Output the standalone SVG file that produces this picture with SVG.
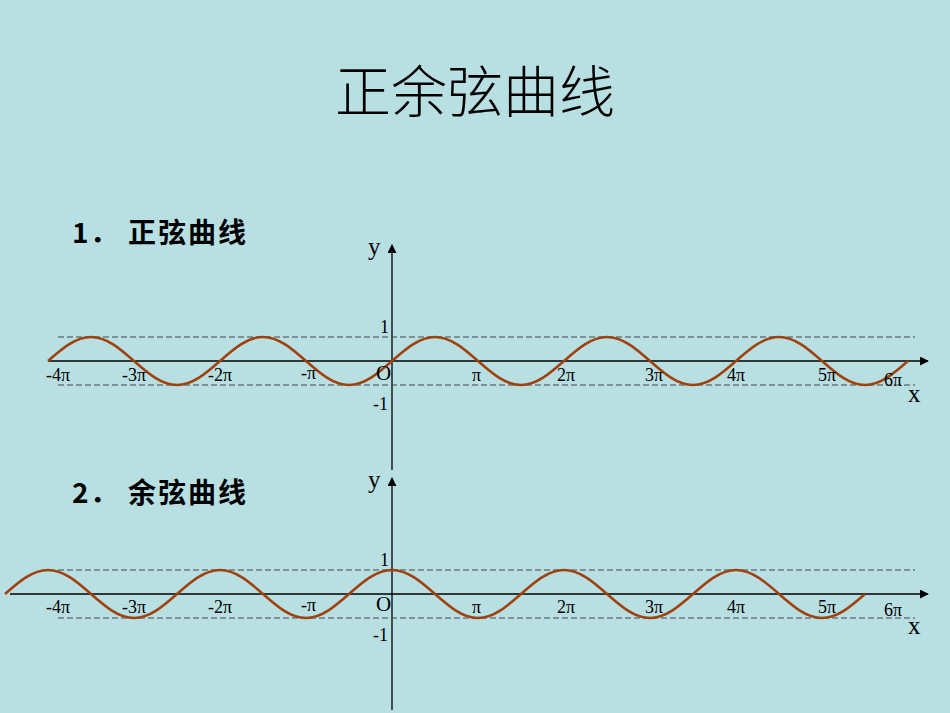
<svg xmlns="http://www.w3.org/2000/svg" width="950" height="713" viewBox="0 0 950 713">
<defs>
<style>
.ax{stroke:#000;stroke-width:1.3;fill:none}
.da{stroke:#444;stroke-width:1;stroke-dasharray:6,3;fill:none}
.cv{stroke:#a0400c;stroke-width:2.5;fill:none}
.t{font-family:"Liberation Serif",serif;font-size:18px;fill:#000}
.h{font-family:"Noto Sans CJK SC",sans-serif;font-size:28px;font-weight:bold;fill:#000}
</style>
<marker id="ar" viewBox="0 0 10 10" refX="9" refY="5" markerWidth="9" markerHeight="9" markerUnits="userSpaceOnUse" orient="auto"><path d="M0,0L10,5L0,10z" fill="#000"/></marker>
</defs>
<rect width="950" height="713" fill="#b8dfe2"/>
<text x="475" y="112" text-anchor="middle" font-family="Noto Sans CJK SC,sans-serif" font-size="56" font-weight="300" fill="#000">正余弦曲线</text>
<text class="h" x="72" y="243">1</text><text class="h" x="90" y="243">．</text><text class="h" x="128" y="243" letter-spacing="2">正弦曲线</text>
<text class="h" x="72" y="503">2</text><text class="h" x="90" y="503">．</text><text class="h" x="128" y="503" letter-spacing="2">余弦曲线</text>
<g id="connectors">
<line class="ax" x1="48" y1="361" x2="928" y2="361" marker-end="url(#ar)"/>
<line class="ax" x1="392" y1="470" x2="392" y2="245" marker-end="url(#ar)"/>
<line class="da" x1="58" y1="337" x2="915" y2="337"/>
<line class="da" x1="58" y1="385" x2="915" y2="385"/>
<line class="ax" x1="10" y1="594" x2="928" y2="594" marker-end="url(#ar)"/>
<line class="ax" x1="392" y1="710" x2="392" y2="478" marker-end="url(#ar)"/>
<line class="da" x1="58" y1="570" x2="915" y2="570"/>
<line class="da" x1="58" y1="618" x2="915" y2="618"/>
</g>
<g id="sine">
<path class="cv" d="M48,361 c14,-12.3 27.4,-24 43,-24 c15.6,0 29,11.7 43,24 c14,12.3 27.4,24 43,24 c15.6,0 29,-11.7 43,-24 c14,-12.3 27.4,-24 43,-24 c15.6,0 29,11.7 43,24 c14,12.3 27.4,24 43,24 c15.6,0 29,-11.7 43,-24 c14,-12.3 27.4,-24 43,-24 c15.6,0 29,11.7 43,24 c14,12.3 27.4,24 43,24 c15.6,0 29,-11.7 43,-24 c14,-12.3 27.4,-24 43,-24 c15.6,0 29,11.7 43,24 c14,12.3 27.4,24 43,24 c15.6,0 29,-11.7 43,-24 c14,-12.3 27.4,-24 43,-24 c15.6,0 29,11.7 43,24 c14,12.3 27.4,24 43,24 c15.6,0 29,-11.7 43,-24"/>
</g>
<g id="cosine">
<path class="cv" d="M5,594 c14,-12.3 27.4,-24 43,-24 c15.6,0 29,11.7 43,24 c14,12.3 27.4,24 43,24 c15.6,0 29,-11.7 43,-24 c14,-12.3 27.4,-24 43,-24 c15.6,0 29,11.7 43,24 c14,12.3 27.4,24 43,24 c15.6,0 29,-11.7 43,-24 c14,-12.3 27.4,-24 43,-24 c15.6,0 29,11.7 43,24 c14,12.3 27.4,24 43,24 c15.6,0 29,-11.7 43,-24 c14,-12.3 27.4,-24 43,-24 c15.6,0 29,11.7 43,24 c14,12.3 27.4,24 43,24 c15.6,0 29,-11.7 43,-24 c14,-12.3 27.4,-24 43,-24 c15.6,0 29,11.7 43,24 c14,12.3 27.4,24 43,24 c15.6,0 29,-11.7 43,-24"/>
</g>
<g id="labels1" class="t">
<text x="368" y="255" font-size="25">y</text>
<text x="908" y="402" font-size="25">x</text>
<text x="380" y="333">1</text>
<text x="373" y="410">-1</text>
<text x="376" y="380" font-size="21">O</text>
<text x="46" y="381">-4π</text><text x="122" y="381">-3π</text><text x="208" y="381">-2π</text><text x="301" y="379">-π</text>
<text x="472" y="381">π</text><text x="557" y="381">2π</text><text x="645" y="381">3π</text><text x="727" y="381">4π</text><text x="818" y="381">5π</text><text x="884" y="386">6π</text>
</g>
<g id="labels2" class="t">
<text x="368" y="488" font-size="25">y</text>
<text x="908" y="634" font-size="25">x</text>
<text x="380" y="566">1</text>
<text x="373" y="641">-1</text>
<text x="376" y="611" font-size="21">O</text>
<text x="46" y="613">-4π</text><text x="122" y="613">-3π</text><text x="208" y="613">-2π</text><text x="301" y="611">-π</text>
<text x="472" y="613">π</text><text x="557" y="613">2π</text><text x="645" y="613">3π</text><text x="727" y="613">4π</text><text x="818" y="613">5π</text><text x="884" y="616">6π</text>
</g>
</svg>
